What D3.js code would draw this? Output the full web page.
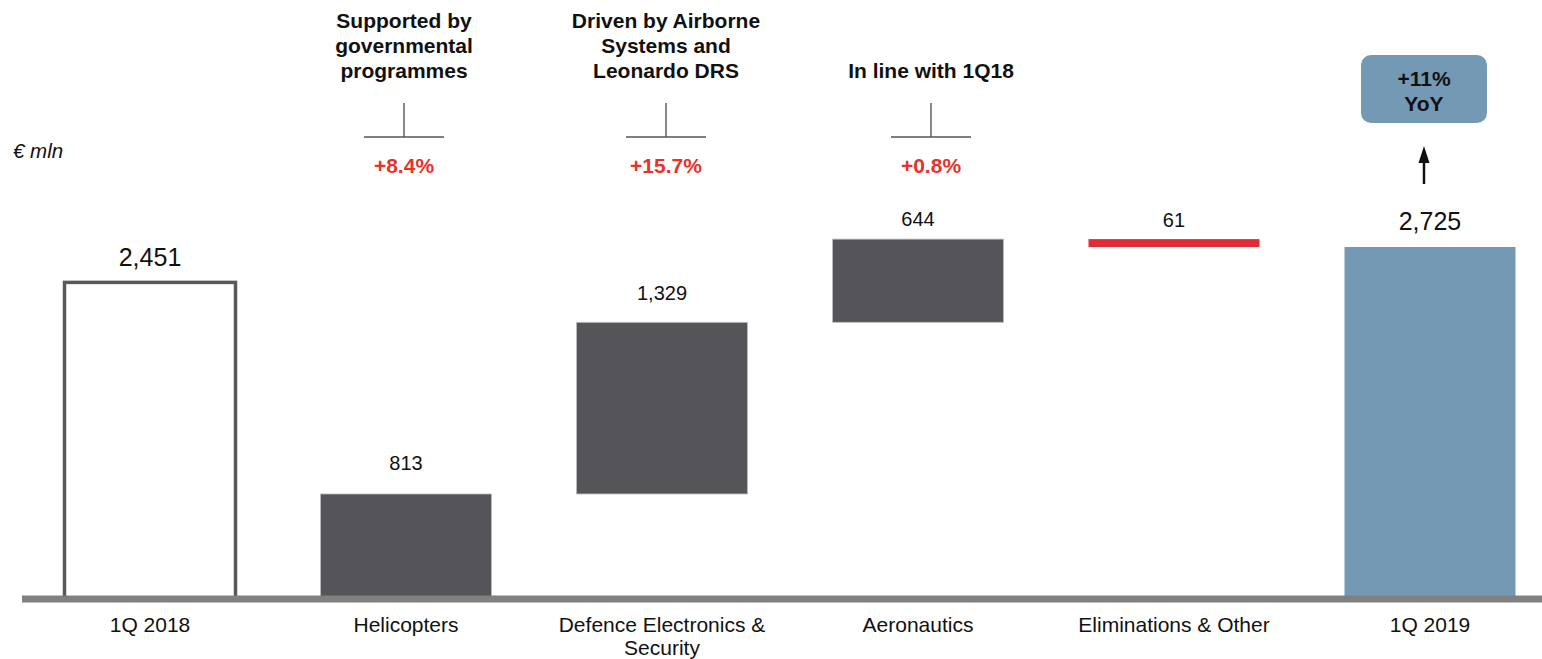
<!DOCTYPE html>
<html>
<head>
<meta charset="utf-8">
<script src="https://cdn.jsdelivr.net/npm/d3@7/dist/d3.min.js"></script>
<style>
  html, body { margin: 0; padding: 0; background: #ffffff; }
  svg { display: block; font-family: Arial, "Liberation Sans", sans-serif; }
</style>
</head>
<body>
<svg id="chart" width="1542" height="659"></svg>
<script>
// Revenues bridge, € mln
const categories = ["1Q 2018", "Helicopters", "Defence Electronics & Security", "Aeronautics", "Eliminations & Other", "1Q 2019"];
const values     = [2451, 813, 1329, 644, -61, 2725];
const kinds      = ["total", "step", "step", "step", "step", "total"];
const valueLabels = ["2,451", "813", "1,329", "644", "61", "2,725"];

// growth notes over the divisions
const noteCategories = ["Helicopters", "Defence Electronics & Security", "Aeronautics"];
const noteTexts = [
  ["Supported by", "governmental", "programmes"],
  ["Driven by Airborne", "Systems and", "Leonardo DRS"],
  ["In line with 1Q18"]
];
const noteGrowth = ["+8.4%", "+15.7%", "+0.8%"];
const yoyLabel = ["+11%", "YoY"];
const unitLabel = "€ mln";

// layout
const noteShift = [-2, 4, 13];                 // horizontal nudge of each note group
const labelGap  = [16, 24, 22, 13, 12, 17];    // space between bar top and its value label
const colors = { step: "#555459", neg: "#e32b37", outline: "#58585a", total: "#7399b4",
                 axis: "#808080", growth: "#e8322a" };

const svg = d3.select("#chart");

const x = d3.scaleBand().domain(categories).range([64.5, 1515.5]).paddingInner(0.332).paddingOuter(0);
const y = d3.scaleLinear().domain([0, 2725]).range([599, 247]);

// running start/end of each bar
let run = 0;
const bars = categories.map((c, i) => {
  let y0, y1;
  if (kinds[i] === "total") { y0 = 0; y1 = values[i]; }
  else { y0 = run; y1 = run + values[i]; run = y1; }
  return { cat: c, v: values[i], kind: kinds[i], y0, y1, i,
           lo: Math.min(y0, y1), hi: Math.max(y0, y1) };
});

const g = svg.append("g");

g.selectAll("rect.bar").data(bars).join("rect")
  .attr("class", "bar")
  .attr("x", d => x(d.cat))
  .attr("width", x.bandwidth())
  .attr("y", d => y(d.hi))
  .attr("height", d => y(d.lo) - y(d.hi))
  .attr("fill", d => d.i === 0 ? "#ffffff" : d.kind === "total" ? colors.total : d.v < 0 ? colors.neg : colors.step)
  .attr("stroke", d => d.i === 0 ? colors.outline : (d.kind === "step" && d.v > 0 ? "#bdbdbf" : "none"))
  .attr("stroke-width", d => d.i === 0 ? 3.5 : 0.8);

// value labels
g.selectAll("text.val").data(bars).join("text")
  .attr("class", "val")
  .attr("x", d => x(d.cat) + x.bandwidth() / 2)
  .attr("y", d => y(d.hi) - labelGap[d.i])
  .attr("text-anchor", "middle")
  .attr("font-size", d => d.kind === "total" ? 25 : 20)
  .attr("fill", "#111111")
  .text(d => valueLabels[d.i]);

// category axis
const axis = d3.axisBottom(x).tickSize(0).tickPadding(0);
const ax = svg.append("g").attr("transform", "translate(0,599)").call(axis);
ax.select(".domain").remove();
ax.selectAll(".tick text")
  .attr("font-size", 21)
  .attr("font-family", "Arial, 'Liberation Sans', sans-serif")
  .attr("fill", "#111111")
  .attr("dy", null)
  .attr("y", 33)
  .each(function (d) {
    const t = d3.select(this);
    const words = d.split(" ");
    t.text(null);
    let line = [], lines = [];
    const maxW = 240;
    const probe = t.append("tspan");
    words.forEach(w => {
      line.push(w);
      probe.text(line.join(" "));
      if (probe.node().getComputedTextLength() > maxW && line.length > 1) {
        line.pop(); lines.push(line.join(" ")); line = [w];
      }
    });
    lines.push(line.join(" "));
    probe.remove();
    lines.forEach((l, k) => t.append("tspan").attr("x", 0).attr("dy", k === 0 ? 0 : 23).text(l));
  });

svg.append("line")
  .attr("x1", 22).attr("x2", 1542)
  .attr("y1", y(0)).attr("y2", y(0))
  .attr("stroke", colors.axis).attr("stroke-width", 7);

// unit
svg.append("text").attr("x", 13).attr("y", 158)
  .attr("font-size", 20.5).attr("font-style", "italic").attr("fill", "#111111")
  .text(unitLabel);

// notes with brackets and growth rates
noteCategories.forEach((c, k) => {
  const cx = x(c) + x.bandwidth() / 2 + noteShift[k];
  const ng = svg.append("g");
  const lines = noteTexts[k];
  lines.forEach((l, j) => {
    ng.append("text")
      .attr("x", cx).attr("y", 78 - (lines.length - 1 - j) * 25)
      .attr("text-anchor", "middle").attr("font-size", 21).attr("font-weight", "bold")
      .attr("fill", "#111111").text(l);
  });
  ng.append("line").attr("x1", cx).attr("x2", cx).attr("y1", 103).attr("y2", 137)
    .attr("stroke", "#111111").attr("stroke-width", 1);
  ng.append("line").attr("x1", cx - 40).attr("x2", cx + 40).attr("y1", 137).attr("y2", 137)
    .attr("stroke", "#555555").attr("stroke-width", 1.3);
  ng.append("text")
    .attr("x", cx).attr("y", 173)
    .attr("text-anchor", "middle").attr("font-size", 21).attr("font-weight", "bold")
    .attr("fill", colors.growth).text(noteGrowth[k]);
});

// YoY callout over the latest total
const lastCx = x(categories[5]) + x.bandwidth() / 2 - 6;
svg.append("rect")
  .attr("x", lastCx - 63).attr("y", 55).attr("width", 126).attr("height", 68)
  .attr("rx", 10).attr("fill", colors.total);
yoyLabel.forEach((l, j) => {
  svg.append("text").attr("x", lastCx).attr("y", 86 + j * 25)
    .attr("text-anchor", "middle").attr("font-size", 21).attr("font-weight", "bold")
    .attr("fill", "#111111").text(l);
});
svg.append("line").attr("x1", lastCx).attr("x2", lastCx).attr("y1", 184).attr("y2", 160)
  .attr("stroke", "#111111").attr("stroke-width", 2.5);
svg.append("path")
  .attr("d", `M${lastCx},146 L${lastCx - 5.5},163 L${lastCx + 5.5},163 Z`)
  .attr("fill", "#111111");
</script>
</body>
</html>
